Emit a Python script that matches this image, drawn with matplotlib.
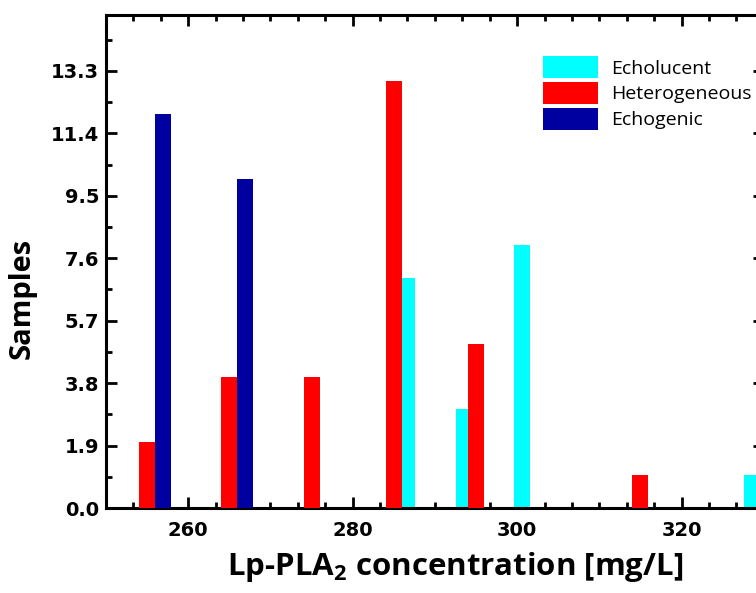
import matplotlib
matplotlib.use('Agg')
import matplotlib.pyplot as plt
from matplotlib.ticker import MultipleLocator, FormatStrFormatter

# bar centres and counts per plaque type
cyan_x = [286.6, 293.6, 300.6, 328.6]
cyan_y = [7, 3, 8, 1]
red_x = [255, 265, 275, 285, 295, 315]
red_y = [2, 4, 4, 13, 5, 1]
blue_x = [256.9, 266.9]
blue_y = [12, 10]
labels = ['Echolucent', 'Heterogeneous', 'Echogenic']
colors = ['#00FFFF', '#FF0000', '#0000A0']

plt.rcParams['mathtext.fontset'] = 'custom'
plt.rcParams['mathtext.bf'] = 'Open Sans:bold'
plt.rcParams['mathtext.rm'] = 'Open Sans:bold'

W, H = 756, 593
fig = plt.figure(figsize=(W / 100, H / 100), dpi=100)
ax = fig.add_axes([106 / W, 1 - 508 / H, (763.75 - 106) / W, (508 - 15) / H])

bw = 1.95
b1 = ax.bar(cyan_x, cyan_y, width=bw, color=colors[0], label=labels[0], zorder=2)
b2 = ax.bar(red_x, red_y, width=bw, color=colors[1], label=labels[1], zorder=3)
b3 = ax.bar(blue_x, blue_y, width=bw, color=colors[2], label=labels[2], zorder=4)

ax.set_xlim(250, 330)
ax.set_ylim(0, 15)
ax.xaxis.set_major_locator(MultipleLocator(20))
ax.xaxis.set_minor_locator(MultipleLocator(20 / 6))
ax.yaxis.set_major_locator(MultipleLocator(1.9))
ax.yaxis.set_minor_locator(MultipleLocator(0.95))
ax.yaxis.set_major_formatter(FormatStrFormatter('%.1f'))

for s in ax.spines.values():
    s.set_linewidth(2.2)
ax.tick_params(which='both', direction='in', top=True, right=True, width=2)
ax.tick_params(which='major', length=8)
ax.tick_params(which='minor', length=4.3)
ax.tick_params(axis='x', which='major', pad=9)
ax.tick_params(axis='y', which='major', pad=5)
for lab in ax.get_xticklabels() + ax.get_yticklabels():
    lab.set_fontfamily('DejaVu Sans')
    lab.set_fontweight('bold')
    lab.set_fontsize(14)

ax.set_ylabel('Samples', fontfamily='Open Sans', fontweight='bold', fontsize=21)
ax.yaxis.set_label_coords(-0.105, 0.426)
ax.set_xlabel(r'Lp-PLA$_\mathbf{2}$ concentration [mg/L]', fontfamily='Open Sans',
              fontweight='bold', fontsize=22.5)
ax.xaxis.set_label_coords(0.531, -0.086)

fs = 14 * 100 / 72
ax.legend(handles=[b1, b2, b3], loc='upper left', frameon=False,
          bbox_to_anchor=(543 / W, 1 - 56 / H), bbox_transform=fig.transFigure,
          prop={'family': 'Open Sans', 'size': 14}, borderpad=0, borderaxespad=0,
          handlelength=55 / fs, handleheight=27 / fs, handletextpad=13 / fs,
          labelspacing=3.5 / fs)

fig.savefig('out.png', dpi=100)
